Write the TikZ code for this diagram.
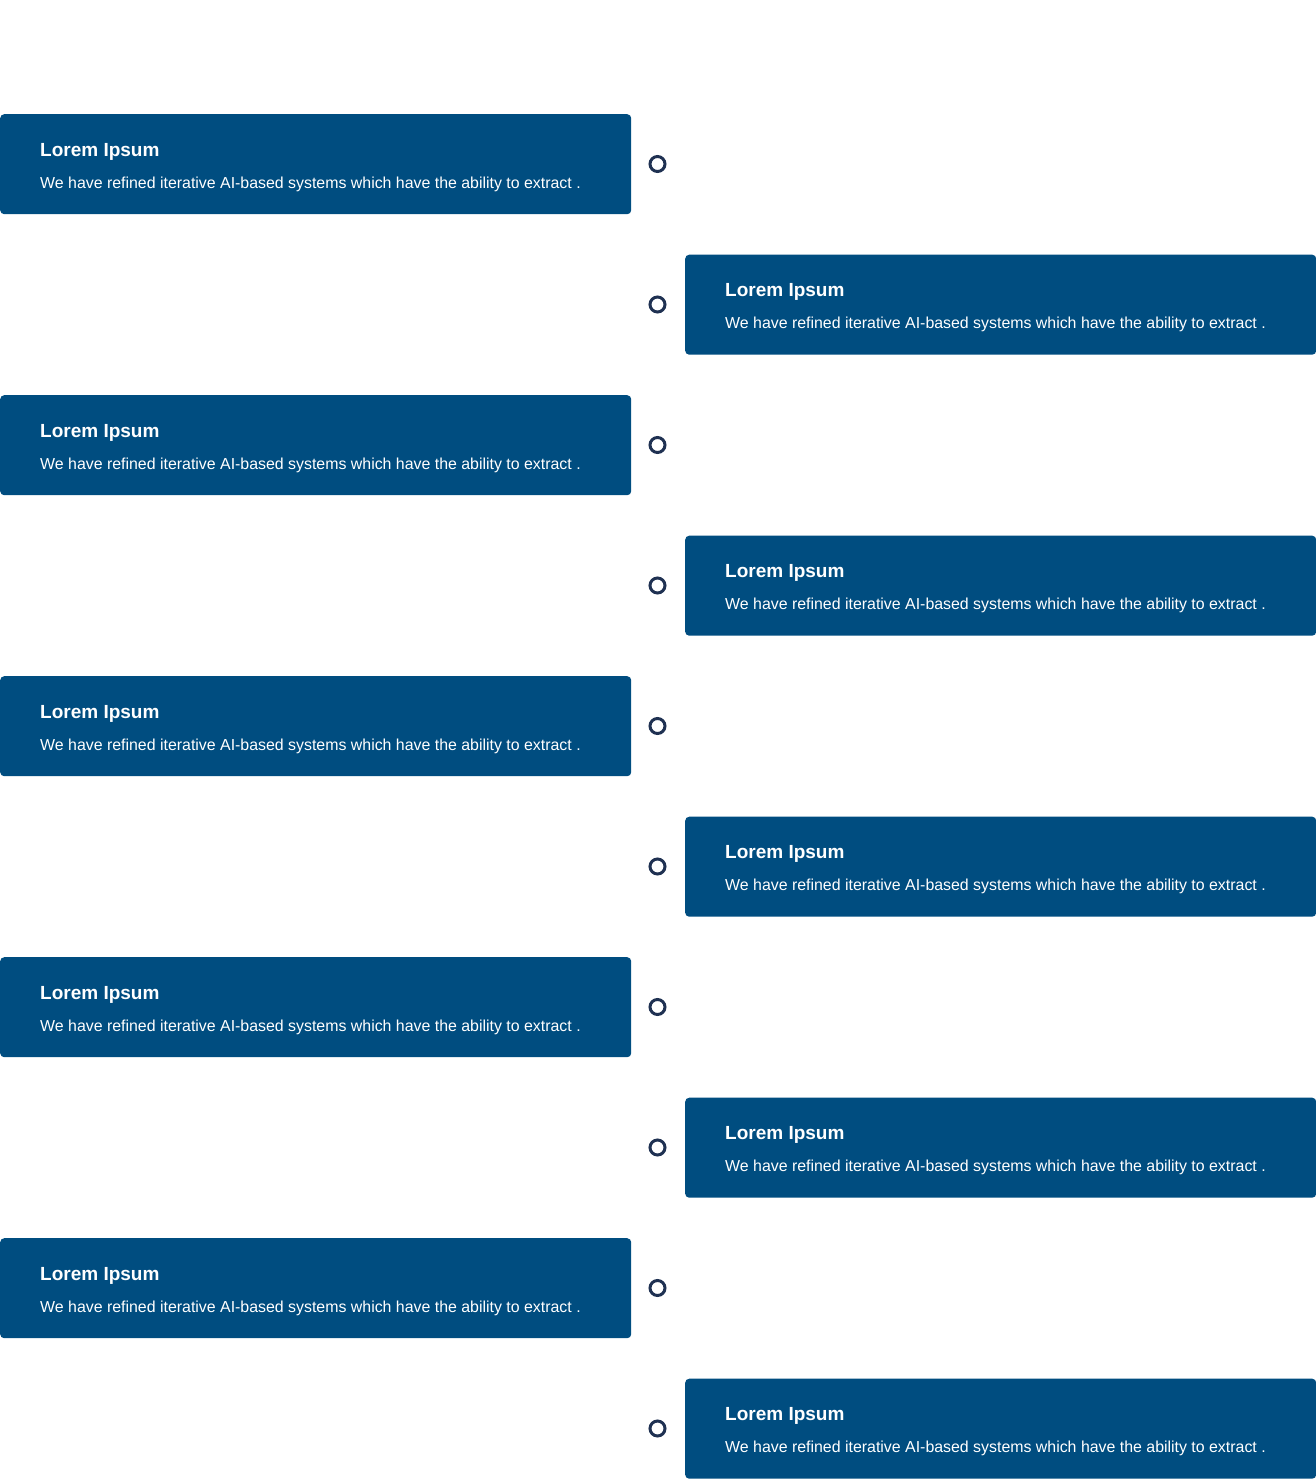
\documentclass[tikz,border=0pt]{standalone}
\usepackage{fontspec}
\setmainfont{Liberation Sans}
\definecolor{cardFill}{RGB}{0,77,128}
\definecolor{dotLine}{RGB}{31,49,82}
\tikzset{
  cardbox/.style={fill=cardFill, rounded corners=4pt, minimum width=631pt,
                  minimum height=100pt, inner sep=0pt, anchor=north west},
  cardtitle/.style={text=white, font=\fontsize{19}{22}\selectfont\bfseries,
                    inner sep=0pt, anchor=base west},
  cardtext/.style={text=white, font=\fontsize{15.9}{18}\selectfont,
                   inner sep=0pt, anchor=base west},
  dotmark/.style={circle, draw=dotLine, line width=3pt, minimum size=15pt, inner sep=0pt},
}
\begin{document}
\begin{tikzpicture}[x=1pt,y=-1pt]
\useasboundingbox (0,0) rectangle (1316,1480);
% cards, alternating left and right
\foreach \i in {0,...,9}{
  \pgfmathsetmacro\ytop{114+140.5*\i}
  \pgfmathsetmacro\xl{mod(\i,2)==0 ? 0 : 685}
  \node[cardbox] (card\i) at (\xl,\ytop) {};
  \node[cardtitle] (title\i) at (\xl+40,\ytop+42) {Lorem Ipsum};
  \node[cardtext] (text\i) at (\xl+40,\ytop+74)
    {We have refined iterative AI-based systems which have the ability to extract .};
  % timeline dot
  \node[dotmark] (dot\i) at (657.5,\ytop+50) {};
}
\end{tikzpicture}
\end{document}
